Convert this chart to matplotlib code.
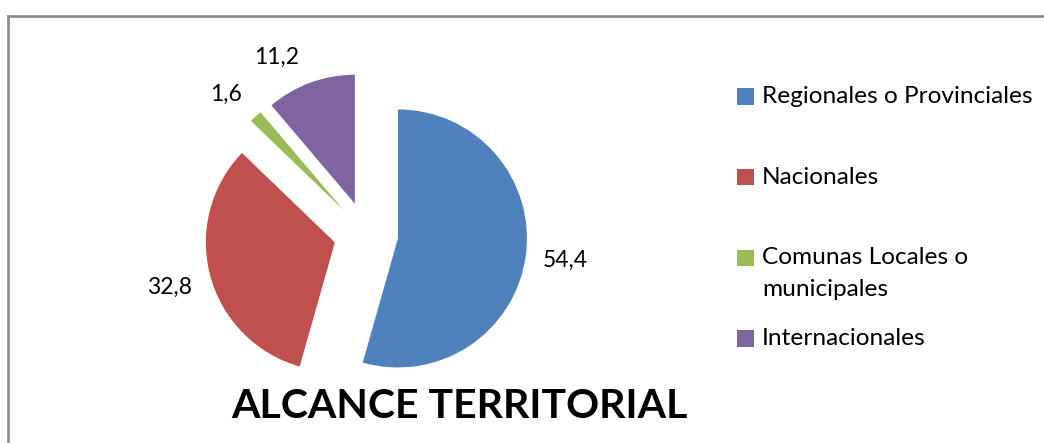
import numpy as np
import matplotlib
matplotlib.use("Agg")
import matplotlib.pyplot as plt
from matplotlib.patches import Rectangle
from matplotlib.lines import Line2D

# ---- data ----
categories = ["Regionales o Provinciales", "Nacionales",
              "Comunas Locales o\nmunicipales", "Internacionales"]
values = [54.4, 32.8, 1.6, 11.2]
value_labels = ["54,4", "32,8", "1,6", "11,2"]
colors = ["#4F81BD", "#C0504D", "#9BBB59", "#8064A2"]
title = "ALCANCE TERRITORIAL"

# ---- layout ----
W, H = 1044, 443
FONT = "Lato"
plt.rcParams["font.family"] = [FONT, "DejaVu Sans"]

fig = plt.figure(figsize=(W / 100, H / 100), dpi=100)
fig.patch.set_facecolor("white")

def fx(px):
    return px / W

def fy(py):  # py measured from top
    return 1 - py / H

# outer border (top and left visible)
border_col = "#8a8a8a"
fig.add_artist(Line2D([fx(8), fx(W + 5)], [fy(15.5), fy(15.5)],
                      color=border_col, lw=1.9, transform=fig.transFigure))
fig.add_artist(Line2D([fx(8), fx(8)], [fy(15.5), fy(H + 5)],
                      color=border_col, lw=1.9, transform=fig.transFigure))

# pie axes
cx, cy, R = 366, 234, 129  # pixel center / radius
half = 200
ax = fig.add_axes([fx(cx - half), fy(cy + half), 2 * half / W, 2 * half / H])
explode = [0.25] * len(values)
wedges, _ = ax.pie(values, colors=colors, startangle=90, counterclock=False,
                   explode=explode, radius=1.0,
                   wedgeprops=dict(linewidth=0, edgecolor="none"))
lim = half / R
ax.set_xlim(-lim, lim)
ax.set_ylim(-lim, lim)
ax.set_aspect("equal")
ax.axis("off")

label_dist = [1.556, 1.574, 1.535, 1.536]
label_nudge = [0.5, 0.0, 1.8, 6.8]
for w, lab, d, nd in zip(wedges, value_labels, label_dist, label_nudge):
    mid = np.deg2rad((w.theta1 + w.theta2) / 2 + nd)
    ax.text(d * np.cos(mid), d * np.sin(mid), lab, ha="center", va="center",
            fontsize=16.5, color="#000000", clip_on=False)

# legend (manual, Excel-like)
leg_x_sq, sq = 737, 16.5
leg_x_txt = 762
row0, row_step, line_step = 96.5, 80.7, 32
for i, (cat, col) in enumerate(zip(categories, colors)):
    yc = row0 + i * row_step
    fig.add_artist(Rectangle((fx(leg_x_sq), fy(yc + sq / 2)), sq / W, sq / H,
                             facecolor=col, edgecolor="none",
                             transform=fig.transFigure))
    for j, line in enumerate(cat.split("\n")):
        fig.text(fx(leg_x_txt), fy(yc + j * line_step), line, ha="left",
                 va="center", fontsize=17.6, color="#000000")

# title
fig.text(fx(459), fy(418), title, ha="center", va="baseline",
         fontsize=29.5, fontweight="bold", color="#000000")

fig.savefig("out.png", dpi=100, facecolor="white")
